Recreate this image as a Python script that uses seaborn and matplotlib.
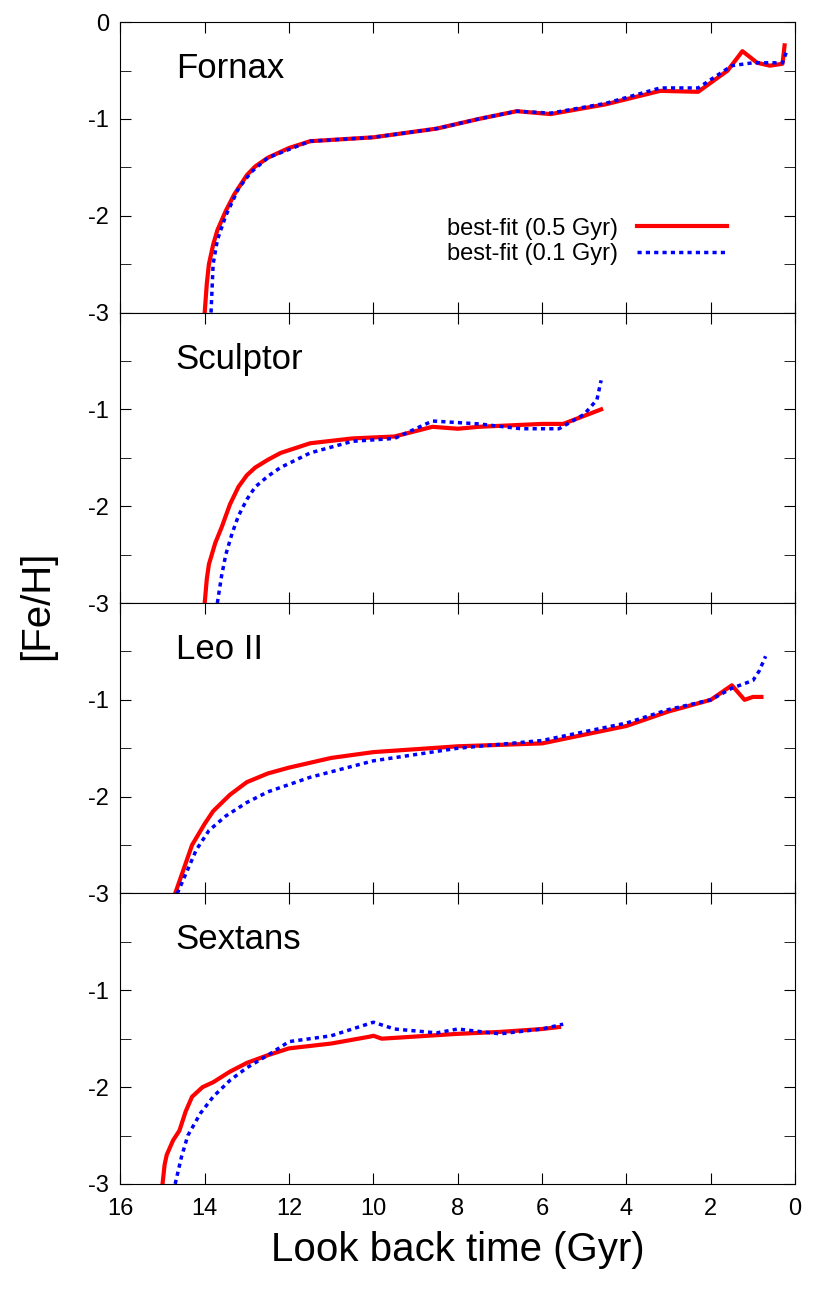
import matplotlib
matplotlib.use("Agg")
import matplotlib.pyplot as plt
import seaborn as sns
from matplotlib.ticker import MultipleLocator

plt.rcParams["font.family"] = "Liberation Sans"

galaxies = ["Fornax", "Sculptor", "Leo II", "Sextans"]

fornax_red_t = [14.0,13.95,13.9,13.8,13.7,13.5,13.3,13.0,12.8,12.5,12.0,11.5,10.0,8.5,7.5,6.6,5.8,4.5,3.2,2.3,1.6,1.25,0.9,0.6,0.3,0.25]
fornax_red_v = [-3,-2.7,-2.5,-2.3,-2.15,-1.95,-1.78,-1.58,-1.49,-1.4,-1.3,-1.23,-1.19,-1.1,-1.0,-0.92,-0.95,-0.85,-0.71,-0.72,-0.5,-0.3,-0.42,-0.45,-0.43,-0.24]
fornax_blue_t = [13.85,13.8,13.7,13.5,13.2,12.9,12.5,11.5,10.0,8.5,7.5,6.6,5.8,4.5,3.2,2.3,1.5,1.0,0.3,0.2]
fornax_blue_v = [-3,-2.5,-2.25,-2.0,-1.72,-1.55,-1.4,-1.23,-1.19,-1.1,-1.0,-0.92,-0.94,-0.84,-0.68,-0.68,-0.45,-0.42,-0.42,-0.3]

sculptor_red_t = [14.0,13.95,13.9,13.75,13.6,13.4,13.2,13.0,12.8,12.5,12.2,11.5,10.5,9.5,8.6,8.0,7.5,6.0,5.5,4.6]
sculptor_red_v = [-3,-2.75,-2.6,-2.38,-2.22,-1.98,-1.8,-1.68,-1.6,-1.52,-1.45,-1.35,-1.3,-1.28,-1.18,-1.2,-1.18,-1.15,-1.15,-1.0]
sculptor_blue_t = [13.7,13.6,13.5,13.35,13.2,13.0,12.8,12.5,12.2,11.5,10.5,9.5,8.6,7.5,6.5,5.6,5.0,4.7,4.6]
sculptor_blue_v = [-3,-2.72,-2.5,-2.28,-2.1,-1.93,-1.8,-1.69,-1.6,-1.45,-1.33,-1.3,-1.12,-1.15,-1.2,-1.2,-1.05,-0.9,-0.7]

leo_red_t = [14.7,14.5,14.3,14.0,13.8,13.4,13.0,12.5,12.0,11.0,10.0,8.0,6.0,4.0,3.0,2.0,1.5,1.2,1.0,0.8]
leo_red_v = [-3,-2.75,-2.5,-2.28,-2.15,-1.98,-1.85,-1.76,-1.7,-1.6,-1.54,-1.48,-1.45,-1.27,-1.12,-1.0,-0.85,-1.0,-0.97,-0.97]
leo_blue_t = [14.65,14.4,14.2,13.9,13.5,13.0,12.5,11.5,10.0,8.0,6.0,4.0,3.0,2.0,1.5,1.0,0.85,0.7]
leo_blue_v = [-3,-2.75,-2.55,-2.35,-2.2,-2.06,-1.95,-1.8,-1.63,-1.5,-1.42,-1.24,-1.1,-1.0,-0.88,-0.8,-0.7,-0.55]

sextans_red_t = [15.0,14.95,14.9,14.75,14.6,14.45,14.3,14.05,13.8,13.4,13.0,12.5,12.0,11.0,10.1,10.0,9.8,8.0,7.0,6.0,5.6]
sextans_red_v = [-3,-2.8,-2.7,-2.55,-2.45,-2.25,-2.1,-2.0,-1.95,-1.84,-1.75,-1.67,-1.6,-1.55,-1.48,-1.47,-1.5,-1.45,-1.43,-1.4,-1.38]
sextans_blue_t = [14.7,14.55,14.4,14.1,13.8,13.4,13.0,12.5,12.0,11.0,10.0,9.5,8.5,8.0,7.0,6.0,5.5]
sextans_blue_v = [-3,-2.72,-2.5,-2.27,-2.1,-1.93,-1.8,-1.67,-1.53,-1.47,-1.33,-1.4,-1.44,-1.4,-1.45,-1.4,-1.35]

data = [
    (fornax_red_t, fornax_red_v, fornax_blue_t, fornax_blue_v),
    (sculptor_red_t, sculptor_red_v, sculptor_blue_t, sculptor_blue_v),
    (leo_red_t, leo_red_v, leo_blue_t, leo_blue_v),
    (sextans_red_t, sextans_red_v, sextans_blue_t, sextans_blue_v),
]

fig, axes = plt.subplots(4, 1, figsize=(8.3, 13.01), dpi=100, sharex=True)
fig.subplots_adjust(left=0.145, right=0.958, top=0.983, bottom=0.09, hspace=0)

for i, (ax, name, (rt, rv, bt, bv)) in enumerate(zip(axes, galaxies, data)):
    sns.lineplot(x=rt, y=rv, ax=ax, color="#ff0000", lw=3, sort=False,
                 label="best-fit (0.5 Gyr)" if i == 0 else None)
    sns.lineplot(x=bt, y=bv, ax=ax, color="#0000ff", lw=2.5, sort=False,
                 linestyle=(0, (1.2, 1.2)), label="best-fit (0.1 Gyr)" if i == 0 else None)
    ax.set_xlim(16, 0)
    ax.set_ylim(-3, 0)
    ax.xaxis.set_major_locator(MultipleLocator(2))
    ax.yaxis.set_major_locator(MultipleLocator(1))
    ax.yaxis.set_minor_locator(MultipleLocator(0.5))
    ax.tick_params(which="both", direction="in", top=True, right=True, labelsize=17)
    ax.tick_params(which="major", length=8)
    ax.tick_params(which="minor", length=8)
    ax.tick_params(axis="y", pad=8)
    ax.tick_params(axis="x", pad=10)
    ax.text(0.082, 0.84, name, transform=ax.transAxes, fontsize=25, va="center")
    if i == 0:
        ax.set_yticks([0, -1, -2, -3])
        ax.set_yticklabels(["0", "-1", "-2", "-3"])
        ax.legend(loc="lower right", bbox_to_anchor=(0.93, 0.09), frameon=False,
                  fontsize=17, markerfirst=False, handlelength=3.8, labelspacing=0.15)
    else:
        ax.set_yticks([-1, -2, -3])
        ax.set_yticklabels(["-1", "-2", "-3"])
    ax.set_ylabel("")

axes[-1].set_xticks(range(0, 17, 2))
axes[-1].set_xticklabels([str(v) for v in range(0, 17, 2)])
axes[-1].set_xlabel("Look back time (Gyr)", fontsize=29, labelpad=8)
fig.text(0.045, 0.535, "[Fe/H]", rotation=90, fontsize=29, va="center", ha="center")
fig.savefig("out.png", dpi=100)
